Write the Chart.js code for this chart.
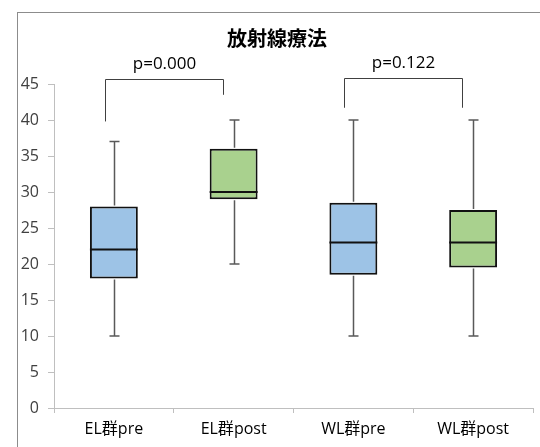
<!DOCTYPE html>
<html>
<head>
<meta charset="utf-8">
<script src="https://cdn.jsdelivr.net/npm/chart.js@4"></script>
<style>
  html, body { margin: 0; padding: 0; background: #fff; }
  #wrap { width: 540px; height: 447px; }
</style>
</head>
<body>
<div id="wrap"><canvas id="myChart" width="540" height="447"></canvas></div>
<script>
// Datos

const categorias = ["EL群pre", "EL群post", "WL群pre", "WL群post"];
const minimos = [10, 20, 10, 10];
const q1 = [18, 29, 18.5, 19.5];
const medianas = [22, 30, 23, 23];
const q3 = [28, 36, 28.5, 27.5];
const maximos = [37, 40, 40, 40];
const colores = ["#9dc3e6", "#a9d18e", "#9dc3e6", "#a9d18e"];

// Comparaciones (p-valor)
const pTextos = ["p=0.000", "p=0.122"];
const pDesde = [0, 2];
const pHasta = [1, 3];
const pTecho = [45.7, 45.8];
const pPataIzq = [39.8, 41.7];
const pPataDer = [43.5, 41.7];

const titulo = "放射線療法";
const fuente = "'Open Sans', 'Noto Sans CJK JP', sans-serif";

const ctx = document.getElementById("myChart");

// Bigotes y mediana
const bigotes = {
  id: "bigotes",
  afterDatasetsDraw(chart) {
    const c = chart.ctx;
    const y = chart.scales.y;
    const meta = chart.getDatasetMeta(0);
    meta.data.forEach((bar, i) => {
      const x = Math.round(bar.x) + 0.5;
      c.save();
      c.strokeStyle = "#595959";
      c.lineWidth = 1.5;
      c.beginPath();
      c.moveTo(x, y.getPixelForValue(maximos[i]));
      c.lineTo(x, y.getPixelForValue(q3[i]) - 1);
      c.moveTo(x, y.getPixelForValue(q1[i]) + 1);
      c.lineTo(x, y.getPixelForValue(minimos[i]));
      // tapas
      c.moveTo(x - 5, y.getPixelForValue(maximos[i]));
      c.lineTo(x + 5, y.getPixelForValue(maximos[i]));
      c.moveTo(x - 5, y.getPixelForValue(minimos[i]));
      c.lineTo(x + 5, y.getPixelForValue(minimos[i]));
      c.stroke();
      // mediana
      c.strokeStyle = "#111";
      c.lineWidth = 2;
      c.beginPath();
      c.moveTo(bar.x - bar.width / 2, y.getPixelForValue(medianas[i]));
      c.lineTo(bar.x + bar.width / 2, y.getPixelForValue(medianas[i]));
      c.stroke();
      c.restore();
    });
  },
};

// Marco, titulo y corchetes de p-valor
const anotaciones = {
  id: "anotaciones",
  beforeDraw(chart) {
    const c = chart.ctx;
    c.save();
    c.strokeStyle = "#8c8c8c";
    c.lineWidth = 1;
    c.strokeRect(17.5, 12.5, 700, 700);
    c.restore();
  },
  afterDraw(chart) {
    const c = chart.ctx;
    const x = chart.scales.x;
    const y = chart.scales.y;
    c.save();
    c.fillStyle = "#000";
    c.textAlign = "center";
    c.textBaseline = "middle";
    c.font = "bold 20px 'Noto Sans CJK JP', sans-serif";
    c.fillText(titulo, 277, 38);

    pTextos.forEach((txt, i) => {
      const x1 = Math.round(x.getPixelForValue(pDesde[i]) - 9) + 0.5;
      const x2 = Math.round(x.getPixelForValue(pHasta[i]) - 11) + 0.5;
      const yt = Math.round(y.getPixelForValue(pTecho[i])) + 0.5;
      c.strokeStyle = "#404040";
      c.lineWidth = 1;
      c.beginPath();
      c.moveTo(x1, y.getPixelForValue(pPataIzq[i]));
      c.lineTo(x1, yt);
      c.lineTo(x2, yt);
      c.lineTo(x2, y.getPixelForValue(pPataDer[i]));
      c.stroke();
      c.font = "17px " + fuente;
      c.fillText(txt, (x1 + x2) / 2, yt - 15);
    });
    c.restore();
  },
};

const config = {
  type: "bar",
  data: {
    labels: categorias,
    datasets: [
      {
        data: q1.map((v, i) => [v, q3[i]]),
        backgroundColor: colores,
        borderColor: "#111",
        borderWidth: 2,
        borderSkipped: false,
        barPercentage: 0.4,
        categoryPercentage: 1,
      },
    ],
  },
  options: {
    responsive: false,
    animation: false,
    layout: { padding: { top: 84, right: 7, left: 0, bottom: 0 } },
    plugins: {
      legend: { display: false },
      tooltip: { enabled: false },
    },
    scales: {
      x: {
        grid: {
          offset: true,
          drawOnChartArea: false,
          tickLength: 5,
          color: "#bfbfbf",
        },
        border: { color: "#bfbfbf" },
        ticks: {
          color: "#000",
          padding: 7,
          font: { family: fuente, size: 16 },
        },
        afterFit(scale) {
          scale.height = 39;
        },
      },
      y: {
        min: 0,
        max: 45,
        grid: {
          drawOnChartArea: false,
          tickLength: 6,
          color: "#bfbfbf",
        },
        border: { color: "#bfbfbf" },
        ticks: {
          stepSize: 5,
          color: "#404040",
          padding: 9,
          font: { family: fuente, size: 16 },
        },
        afterFit(scale) {
          scale.width = 54;
        },
      },
    },
  },
  plugins: [bigotes, anotaciones],
};

const myChart = new Chart(ctx, config);
</script>
</body>
</html>
